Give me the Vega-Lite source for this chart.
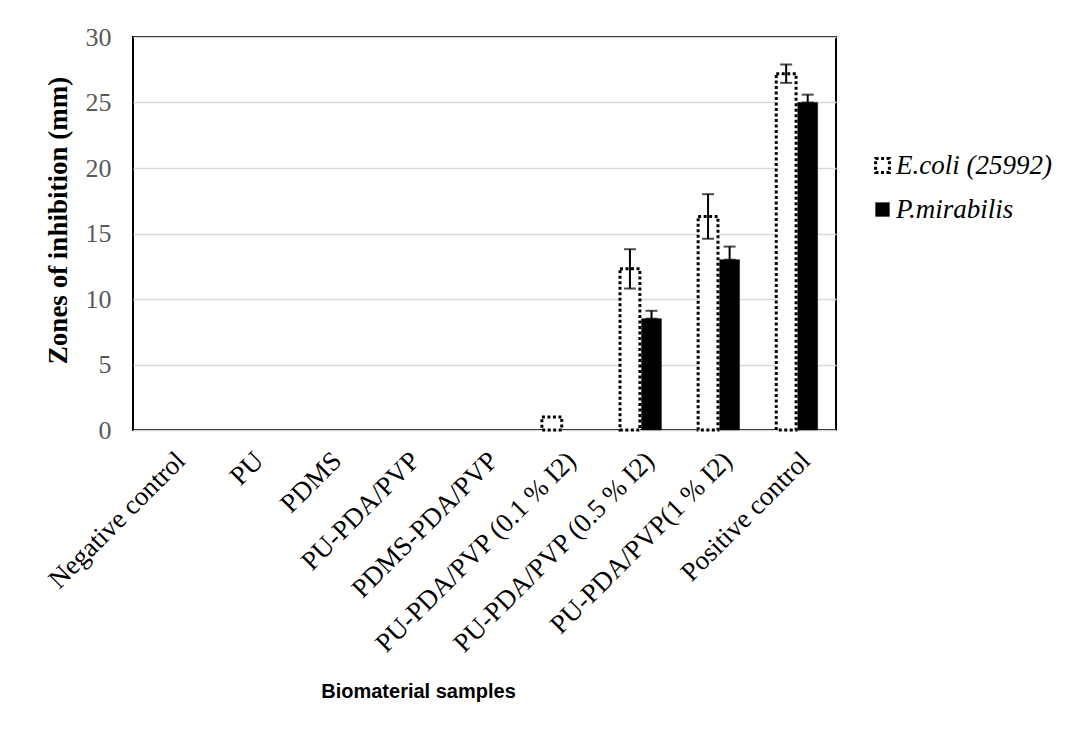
{
  "$schema": "https://vega.github.io/schema/vega-lite/v6.json",
  "autosize": "none",
  "width": 703,
  "height": 393,
  "padding": {"left": 133, "top": 37, "right": 232, "bottom": 304},
  "background": "white",
  "config": {
    "view": {"stroke": "black", "strokeWidth": 2},
    "font": "Liberation Serif",
    "legend": {"labelFont": "Liberation Serif"}
  },
  "datasets": {
    "bars": [
      {"sample": "PU-PDA/PVP (0.1 % I2)", "series": "E.coli (25992)", "value": 1},
      {"sample": "PU-PDA/PVP (0.5 % I2)", "series": "E.coli (25992)", "value": 12.3},
      {"sample": "PU-PDA/PVP (0.5 % I2)", "series": "P.mirabilis", "value": 8.5},
      {"sample": "PU-PDA/PVP(1 % I2)", "series": "E.coli (25992)", "value": 16.3},
      {"sample": "PU-PDA/PVP(1 % I2)", "series": "P.mirabilis", "value": 13},
      {"sample": "Positive control", "series": "E.coli (25992)", "value": 27.2},
      {"sample": "Positive control", "series": "P.mirabilis", "value": 25}
    ],
    "errs": [
      {"sample": "PU-PDA/PVP (0.5 % I2)", "series": "E.coli (25992)", "lo": 10.8, "hi": 13.8},
      {"sample": "PU-PDA/PVP (0.5 % I2)", "series": "P.mirabilis", "lo": 8.5, "hi": 9.1},
      {"sample": "PU-PDA/PVP(1 % I2)", "series": "E.coli (25992)", "lo": 14.6, "hi": 18},
      {"sample": "PU-PDA/PVP(1 % I2)", "series": "P.mirabilis", "lo": 13, "hi": 14},
      {"sample": "Positive control", "series": "E.coli (25992)", "lo": 26.5, "hi": 27.9},
      {"sample": "Positive control", "series": "P.mirabilis", "lo": 25, "hi": 25.6}
    ]
  },
  "encoding": {
    "x": {
      "field": "sample",
      "type": "nominal",
      "sort": ["Negative control", "PU", "PDMS", "PU-PDA/PVP", "PDMS-PDA/PVP", "PU-PDA/PVP (0.1 % I2)", "PU-PDA/PVP (0.5 % I2)", "PU-PDA/PVP(1 % I2)", "Positive control"],
      "scale": {
        "domain": ["Negative control", "PU", "PDMS", "PU-PDA/PVP", "PDMS-PDA/PVP", "PU-PDA/PVP (0.1 % I2)", "PU-PDA/PVP (0.5 % I2)", "PU-PDA/PVP(1 % I2)", "Positive control"],
        "paddingInner": 0.47, "paddingOuter": 0.235
      },
      "axis": {
        "title": "Biomaterial samples",
        "titleFont": "Liberation Sans",
        "titleFontWeight": "bold",
        "titleFontSize": 20,
        "titleColor": "black",
        "titleX": 285,
        "titleY": 267,
        "titleBaseline": "alphabetic",
        "labelAngle": -45,
        "labelFont": "Liberation Serif",
        "labelFontSize": 27,
        "labelColor": "black",
        "labelPadding": 17,
        "ticks": false,
        "domain": false,
        "labelLimit": 400
      }
    },
    "xOffset": {
      "field": "series",
      "type": "nominal",
      "scale": {"domain": ["E.coli (25992)", "P.mirabilis"], "paddingInner": 0.08, "paddingOuter": 0}
    }
  },
  "layer": [
    {
      "data": {"name": "bars"},
      "mark": {"type": "bar", "stroke": "black"},
      "encoding": {
        "y": {
          "field": "value",
          "type": "quantitative",
          "scale": {"domain": [0, 30], "nice": false},
          "axis": {
            "title": "Zones of inhibition (mm)",
            "titleFont": "Liberation Serif",
            "titleFontWeight": "bold",
            "titleFontSize": 27,
            "titleColor": "black",
            "titlePadding": 13,
            "titleY": 183,
            "values": [0, 5, 10, 15, 20, 25, 30],
            "labelFont": "Liberation Serif",
            "labelFontSize": 26,
            "labelColor": "#595959",
            "labelPadding": 22,
            "ticks": false,
            "domain": false,
            "gridColor": "#d9d9d9",
            "gridWidth": 1.5
          }
        },
        "fill": {
          "field": "series",
          "type": "nominal",
          "scale": {"domain": ["E.coli (25992)", "P.mirabilis"], "range": ["white", "black"]},
          "legend": {
            "title": null,
            "orient": "none",
            "legendX": 736,
            "legendY": 115,
            "symbolType": "square",
            "symbolSize": 190,
            "symbolStrokeColor": "black",
            "symbolStrokeWidth": 2.5,
            "labelFont": "Liberation Serif",
            "labelFontStyle": "italic",
            "labelFontSize": 27,
            "labelColor": "black",
            "labelOffset": 0,
            "rowPadding": 16
          }
        },
        "strokeDash": {
          "field": "series",
          "type": "nominal",
          "scale": {"domain": ["E.coli (25992)", "P.mirabilis"], "range": [[3, 2.5], [1, 0]]},
          "legend": null
        },
        "strokeWidth": {
          "field": "series",
          "type": "nominal",
          "scale": {"domain": ["E.coli (25992)", "P.mirabilis"], "range": [3, 0.5]},
          "legend": null
        }
      }
    },
    {
      "data": {"name": "errs"},
      "mark": {"type": "rule", "color": "black", "strokeWidth": 2},
      "encoding": {
        "y": {"field": "lo", "type": "quantitative"},
        "y2": {"field": "hi"}
      }
    },
    {
      "data": {"name": "errs"},
      "mark": {"type": "tick", "orient": "horizontal", "color": "black", "size": 12, "thickness": 2},
      "encoding": {
        "y": {"field": "lo", "type": "quantitative"}
      }
    },
    {
      "data": {"name": "errs"},
      "mark": {"type": "tick", "orient": "horizontal", "color": "black", "size": 12, "thickness": 2},
      "encoding": {
        "y": {"field": "hi", "type": "quantitative"}
      }
    }
  ]
}
